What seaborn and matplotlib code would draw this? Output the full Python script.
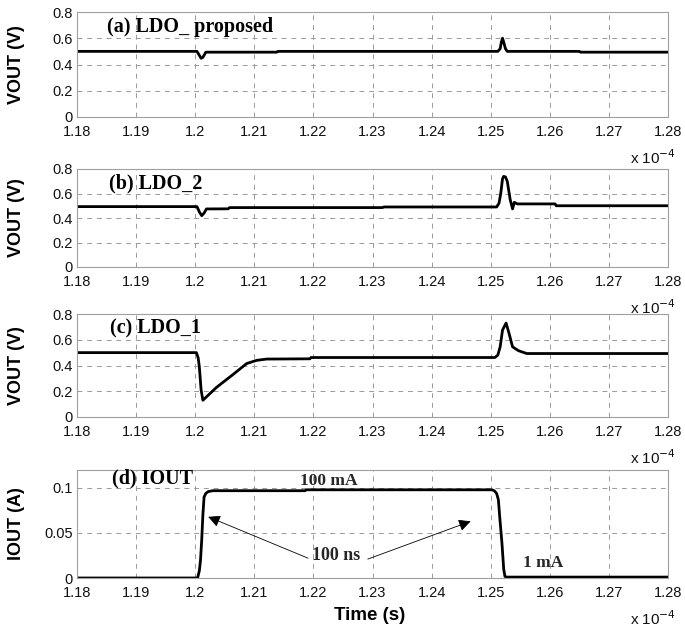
import matplotlib
matplotlib.use("Agg")
import matplotlib.pyplot as plt
import seaborn as sns
import pandas as pd

# ---- data (time in units of 1e-4 s) ----
t_a = [1.18, 1.2003, 1.2007, 1.2010, 1.2013, 1.2018, 1.2138, 1.2140, 1.2512, 1.2516,
       1.2518, 1.2520, 1.2522, 1.2525, 1.2528, 1.2650, 1.2652, 1.28]
v_a = [0.50, 0.50, 0.47, 0.447, 0.455, 0.494, 0.494, 0.50, 0.50, 0.52,
       0.57, 0.60, 0.57, 0.52, 0.50, 0.50, 0.494, 0.494]

t_b = [1.18, 1.2003, 1.2007, 1.2011, 1.2015, 1.2019, 1.2056, 1.2058, 1.2317, 1.2319,
       1.2510, 1.2514, 1.2517, 1.2520, 1.2522, 1.2525, 1.2528, 1.2533, 1.2537, 1.2540,
       1.2545, 1.2609, 1.2611, 1.28]
v_b = [0.493, 0.493, 0.45, 0.419, 0.44, 0.474, 0.475, 0.485, 0.485, 0.49,
       0.49, 0.52, 0.60, 0.72, 0.74, 0.735, 0.70, 0.55, 0.474, 0.528,
       0.515, 0.515, 0.50, 0.50]

t_c = [1.18, 1.2002, 1.2005, 1.2007, 1.2010, 1.2013, 1.2036, 1.2064, 1.2087, 1.2104,
       1.2121, 1.2194, 1.2196, 1.2507, 1.2512, 1.2516, 1.2520, 1.2526, 1.2531, 1.2537,
       1.2547, 1.2561, 1.28]
v_c = [0.50, 0.50, 0.46, 0.39, 0.21, 0.13, 0.23, 0.33, 0.415, 0.44,
       0.45, 0.452, 0.462, 0.462, 0.48, 0.545, 0.675, 0.73, 0.65, 0.545,
       0.515, 0.493, 0.493]

t_d = [1.18, 1.2004, 1.2007, 1.2009, 1.2011, 1.2013, 1.2015, 1.2018, 1.2022, 1.2030,
       1.2186, 1.2188, 1.2502, 1.2506, 1.2510, 1.2513, 1.2515, 1.2519, 1.2522, 1.2524,
       1.2526, 1.28]
i_d = [0.0, 0.0, 0.008, 0.02, 0.042, 0.07, 0.09, 0.094, 0.096, 0.097,
       0.097, 0.098, 0.098, 0.097, 0.094, 0.087, 0.07, 0.039, 0.01, 0.002,
       0.001, 0.001]

x_ticks = [1.18, 1.19, 1.20, 1.21, 1.22, 1.23, 1.24, 1.25, 1.26, 1.27, 1.28]
x_tick_labels = ["1.18", "1.19", "1.2", "1.21", "1.22", "1.23", "1.24", "1.25", "1.26", "1.27", "1.28"]
v_ticks = [0, 0.2, 0.4, 0.6, 0.8]
v_tick_labels = ["0", "0.2", "0.4", "0.6", "0.8"]
i_ticks = [0, 0.05, 0.1]
i_tick_labels = ["0", "0.05", "0.1"]
panel_titles = ["(a) LDO_ proposed", "(b) LDO_2", "(c) LDO_1", "(d) IOUT"]
y_labels = ["VOUT (V)", "VOUT (V)", "VOUT (V)", "IOUT (A)"]

sns.set_theme(style="white")
plt.rcParams["font.family"] = ["Liberation Sans", "DejaVu Sans"]

W, H = 685, 633
fig = plt.figure(figsize=(W / 100, H / 100), dpi=100)

# axes boxes in pixels: (top, bottom)
boxes = [(12, 117), (169, 267), (314, 417), (470, 578)]
left_px, right_px = 77, 668

series = [(t_a, v_a), (t_b, v_b), (t_c, v_c), (t_d, i_d)]
title_pos = [(0.051, 0.855), (0.054, 0.857), (0.056, 0.864), (0.059, 0.923)]
serif = ["Liberation Serif", "DejaVu Serif"]

grid_col = "#9a9a9a"
axes = []
for k, ((top, bot), (tx, ty)) in enumerate(zip(boxes, series)):
    ax = fig.add_axes([left_px / W, 1 - bot / H, (right_px - left_px) / W, (bot - top) / H])
    df = pd.DataFrame({"t": tx, "y": ty})
    sns.lineplot(data=df, x="t", y="y", ax=ax, color="black", linewidth=2.0,
                 estimator=None, sort=False)
    ax.set_xlim(1.18, 1.28)
    if k < 3:
        ax.set_ylim(0, 0.8)
        ax.set_yticks(v_ticks)
        ax.set_yticklabels(v_tick_labels, va="center_baseline")
    else:
        ax.set_ylim(0, 0.12)
        ax.set_yticks(i_ticks)
        ax.set_yticklabels(i_tick_labels, va="center_baseline")
    ax.set_xticks(x_ticks)
    ax.set_xticklabels(x_tick_labels)
    ax.grid(True, color=grid_col, linestyle=(0, (5, 5)), linewidth=0.7)
    ax.set_axisbelow(True)
    for s in ax.spines.values():
        s.set_color("#a0a0a0")
        s.set_linewidth(0.8)
    ax.tick_params(axis="both", length=0, labelsize=10.5, colors="#111111")
    ax.tick_params(axis="x", pad=5.5)
    ax.tick_params(axis="y", pad=3)
    ax.set_xlabel("")
    ax.set_ylabel(y_labels[k], fontsize=13, fontweight="bold", color="black")
    ax.yaxis.set_label_coords(-0.088, 0.5)
    ax.text(title_pos[k][0], title_pos[k][1], panel_titles[k], transform=ax.transAxes,
            ha="left", va="center", fontsize=14.5, fontweight="bold",
            family=serif, color="black")
    fig.text(630 / W, 1 - (bot + 47) / H, r"x 10$^{-4}$", ha="left", va="baseline",
             fontsize=11, color="#111111")
    axes.append(ax)

axd = axes[3]
axd.text(1.2177, 0.108, "100 mA", ha="left", va="center", fontsize=12.5,
         fontweight="bold", family=serif)
axd.text(1.2555, 0.017, "1 mA", ha="left", va="center", fontsize=12.5,
         fontweight="bold", family=serif)
axd.text(1.2197, 0.025, "100 ns", ha="left", va="center", fontsize=13,
         fontweight="bold", family=serif)
arrow = dict(arrowstyle="-|>", color="black", lw=0.6, mutation_scale=18,
             shrinkA=0, shrinkB=0)
axd.annotate("", xy=(1.2022, 0.068), xytext=(1.2191, 0.022), arrowprops=arrow)
axd.annotate("", xy=(1.2466, 0.063), xytext=(1.2292, 0.021), arrowprops=arrow)

fig.text(370 / W, 1 - 616 / H, "Time (s)", ha="center", va="center",
         fontsize=13.5, fontweight="bold", color="black")

fig.savefig("out.png", dpi=100)
